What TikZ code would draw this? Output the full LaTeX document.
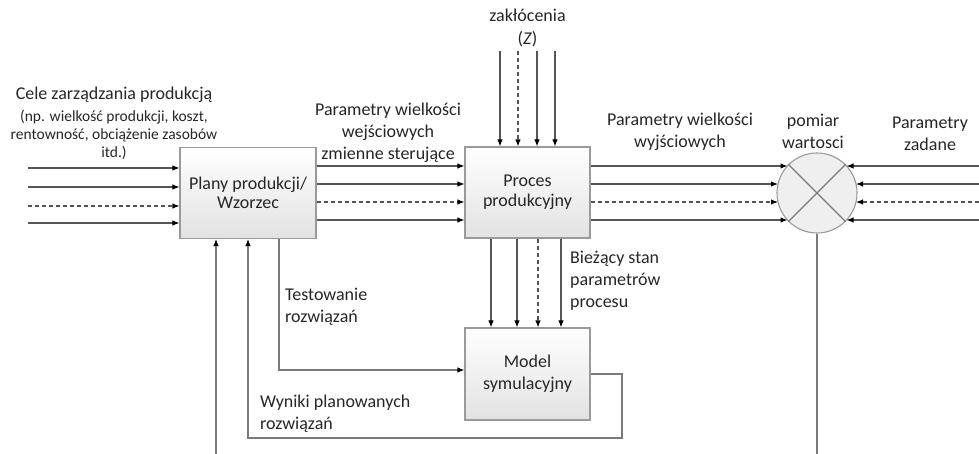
\documentclass[tikz,border=0pt]{standalone}
\usepackage{fontspec}
\setmainfont{Carlito}
\usetikzlibrary{arrows.meta,calc}

\definecolor{boxline}{HTML}{9A9A9A}
\definecolor{boxbot}{HTML}{E2E2E2}
\definecolor{circfill}{HTML}{EFEFEF}
\definecolor{wirecol}{HTML}{555555}
\definecolor{fbcol}{HTML}{7A7A7A}
\definecolor{txt}{HTML}{262626}

\begin{document}
\begin{tikzpicture}[x=1bp,y=-1bp,
  font=\fontsize{18bp}{22bp}\selectfont,
  blk/.style={draw=boxline, line width=1.1bp, top color=white, bottom color=boxbot,
    align=center, inner sep=0pt, text=txt},
  wire/.style={draw=wirecol, line width=1.1bp},
  arr/.style={wire, -{Latex[length=7bp,width=5.5bp,color=black]}},
  fb/.style={arr, draw=fbcol},
  dsh/.style={dash pattern=on 4bp off 3bp},
  lbl/.style={align=center, text=txt, inner sep=0pt},
  lbll/.style={align=left, text=txt, inner sep=0pt, anchor=west},
]
\useasboundingbox (0,0) rectangle (979,454);

% blocks
\node[blk, minimum width=136bp, minimum height=91bp] (plany) at (248,193)
  {Plany produkcji/\\[-3bp]Wzorzec};
\node[blk, minimum width=125bp, minimum height=91bp] (proc) at (527.5,192.5)
  {Proces\\[-2bp]produkcyjny};
\node[blk, minimum width=125bp, minimum height=92bp] (model) at (527.5,374)
  {Model\\symulacyjny};
\node[circle, draw=boxline, line width=1.1bp, fill=circfill, minimum size=80bp,
  inner sep=0pt] (sum) at (817,193) {};
\draw[wire, draw=fbcol] (sum.north west) -- (sum.south east);
\draw[wire, draw=fbcol] (sum.north east) -- (sum.south west);

% goals entering the plan
\coordinate (g1) at (28,168);
\coordinate (g2) at (28,187);
\coordinate (g3) at (28,206);
\coordinate (g4) at (28,223);
\draw[arr] (g1) -- (g1 -| plany.west);
\draw[arr] (g2) -- (g2 -| plany.west);
\draw[arr,dsh] (g3) -- (g3 -| plany.west);
\draw[arr] (g4) -- (g4 -| plany.west);

% control variables
\coordinate (c1) at (0,166);
\coordinate (c2) at (0,184);
\coordinate (c3) at (0,202);
\coordinate (c4) at (0,220);
\draw[arr] (c1 -| plany.east) -- (c1 -| proc.west);
\draw[arr] (c2 -| plany.east) -- (c2 -| proc.west);
\draw[arr,dsh] (c3 -| plany.east) -- (c3 -| proc.west);
\draw[arr] (c4 -| plany.east) -- (c4 -| proc.west);

% disturbances
\coordinate (z1) at (500,51);
\coordinate (z2) at (518,51);
\coordinate (z3) at (537,51);
\coordinate (z4) at (555,51);
\draw[arr] (z1) -- (z1 |- proc.north);
\draw[arr,dsh] (z2) -- (z2 |- proc.north);
\draw[arr] (z3) -- (z3 |- proc.north);
\draw[arr] (z4) -- (z4 |- proc.north);

% outputs to the comparator
\draw[arr] (c1 -| proc.east) -- ($(sum.center)+(-29.5,-27)$);
\draw[arr] (c2 -| proc.east) -- ($(sum.center)+(-39,-9)$);
\draw[arr,dsh] (c3 -| proc.east) -- ($(sum.center)+(-39,9)$);
\draw[arr] (c4 -| proc.east) -- ($(sum.center)+(-29.5,27)$);

% set values
\coordinate (s1) at (979,166);
\coordinate (s2) at (979,184);
\coordinate (s3) at (979,202);
\coordinate (s4) at (979,220);
\draw[arr] (s1) -- ($(sum.center)+(29.5,-27)$);
\draw[arr] (s2) -- ($(sum.center)+(39,-9)$);
\draw[arr,dsh] (s3) -- ($(sum.center)+(39,9)$);
\draw[arr] (s4) -- ($(sum.center)+(29.5,27)$);

\coordinate (mo) at (817,454);
\draw[wire, draw=fbcol] (sum.south) -- (mo);

% process state to the model
\coordinate (p1) at (491,0);
\coordinate (p2) at (517,0);
\coordinate (p3) at (538,0);
\coordinate (p4) at (561,0);
\draw[arr] (p1 |- proc.south) -- (p1 |- model.north);
\draw[arr] (p2 |- proc.south) -- (p2 |- model.north);
\draw[arr,dsh] (p3 |- proc.south) -- (p3 |- model.north);
\draw[arr] (p4 |- proc.south) -- (p4 |- model.north);

% testing and feedback loops
\coordinate (tx) at (279,0);
\draw[fb] (tx |- plany.south) |- ([yshift=4bp]model.west);
\coordinate (fbc) at (622,438);
\coordinate (fbx) at (248,0);
\draw[fb] (model.east) -| (fbc) -- (fbc -| fbx) -- (fbx |- plany.south);
\coordinate (ex) at (216,454);
\draw[fb] (ex) -- (ex |- plany.south);

% labels
\node[lbl] (lcele) at (114,95) {Cele zarządzania produkcją};
\node[lbl, font=\fontsize{15.5bp}{18bp}\selectfont] (lcele2) at (114,135)
  {(np. wielkość produkcji, koszt,\\rentowność, obciążenie zasobów\\itd.)};
\node[lbl] (lzak) at (527.5,28) {zakłócenia\\[1bp](\textit{Z})};
\node[lbl] (lwej) at (388,133) {Parametry wielkości\\wejściowych\\zmienne sterujące};
\node[lbl] (lwyj) at (680,132) {Parametry wielkości\\wyjściowych};
\node[lbl] (lpom) at (813,131) {pomiar\\wartosci};
\node[lbl] (lzad) at (930,134) {Parametry\\zadane};
\node[lbll] (lbiez) at (570,281) {Bieżący stan\\parametrów\\procesu};
\node[lbll] (ltest) at (285,306.5) {Testowanie\\rozwiązań};
\node[lbll] (lwyn) at (260,414) {Wyniki planowanych\\rozwiązań};
\end{tikzpicture}
\end{document}
